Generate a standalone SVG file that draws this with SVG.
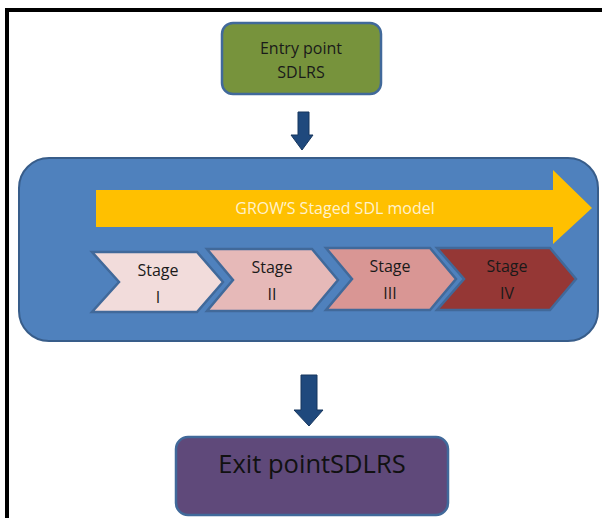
<svg xmlns="http://www.w3.org/2000/svg" width="602" height="518" viewBox="0 0 602 518">
<style>
.t{font-family:"Open Sans","Liberation Sans",Arial,sans-serif;text-anchor:middle}
.chev{stroke:#41699a;stroke-width:2.5;stroke-linejoin:miter}
.st{font-size:16px;fill:#1a1a1a}
.down{fill:#1f497d;stroke:#17375e;stroke-width:1}
</style>
<rect width="602" height="518" fill="#ffffff"/>
<path d="M7,518 V10 H602" fill="none" stroke="#000" stroke-width="4"/>
<g id="entry">
<rect x="222" y="23" width="159" height="71" rx="11" fill="#77933c" stroke="#41699a" stroke-width="2.5"/>
<text class="t" x="301" y="54" font-size="16" fill="#1a1a1a">Entry point</text>
<text class="t" x="301" y="78" font-size="16" fill="#1a1a1a">SDLRS</text>
</g>
<g id="model">
<rect x="19" y="158" width="579" height="183" rx="30" fill="#4f81bd" stroke="#385d8a" stroke-width="2"/>
<g id="grow">
<path d="M96,190 H553 V170 L592,208 L553,244 V227 H96 Z" fill="#ffc000"/>
<text class="t" x="335" y="214" font-size="16" fill="#fff2cc">GROW’S Staged SDL model</text>
</g>
<g id="stage1">
<path class="chev" d="M92,252 H197 L223,282 L197,312 H92 L119,282 Z" fill="#f2dcdb"/>
<text class="t st" x="158" y="276">Stage</text><text class="t st" x="158" y="303">I</text>
</g>
<g id="stage2">
<path class="chev" d="M207,249 H312 L338,280 L312,311 H207 L233,280 Z" fill="#e6b9b8"/>
<text class="t st" x="272" y="273">Stage</text><text class="t st" x="272" y="300">II</text>
</g>
<g id="stage3">
<path class="chev" d="M326,248 H430 L456,279 L430,310 H326 L352,279 Z" fill="#d99694"/>
<text class="t st" x="390" y="272">Stage</text><text class="t st" x="390" y="299">III</text>
</g>
<g id="stage4">
<path class="chev" d="M437,248 H550 L576,279 L550,310 H437 L464,279 Z" fill="#953735"/>
<text class="t st" x="507" y="272">Stage</text><text class="t st" x="507" y="299">IV</text>
</g>
</g>
<g id="connectors">
<path class="down" d="M298,112 H309 V135 H313 L302,150 L291,135 H298 Z"/>
<path class="down" d="M301,375 H317 V410 H323 L309,426 L294,410 H301 Z"/>
</g>
<g id="exit">
<rect x="176" y="437" width="272" height="78" rx="12" fill="#5f497a" stroke="#41699a" stroke-width="2.5"/>
<text class="t" x="312" y="473" font-size="25.5" fill="#111">Exit pointSDLRS</text>
</g>
</svg>
